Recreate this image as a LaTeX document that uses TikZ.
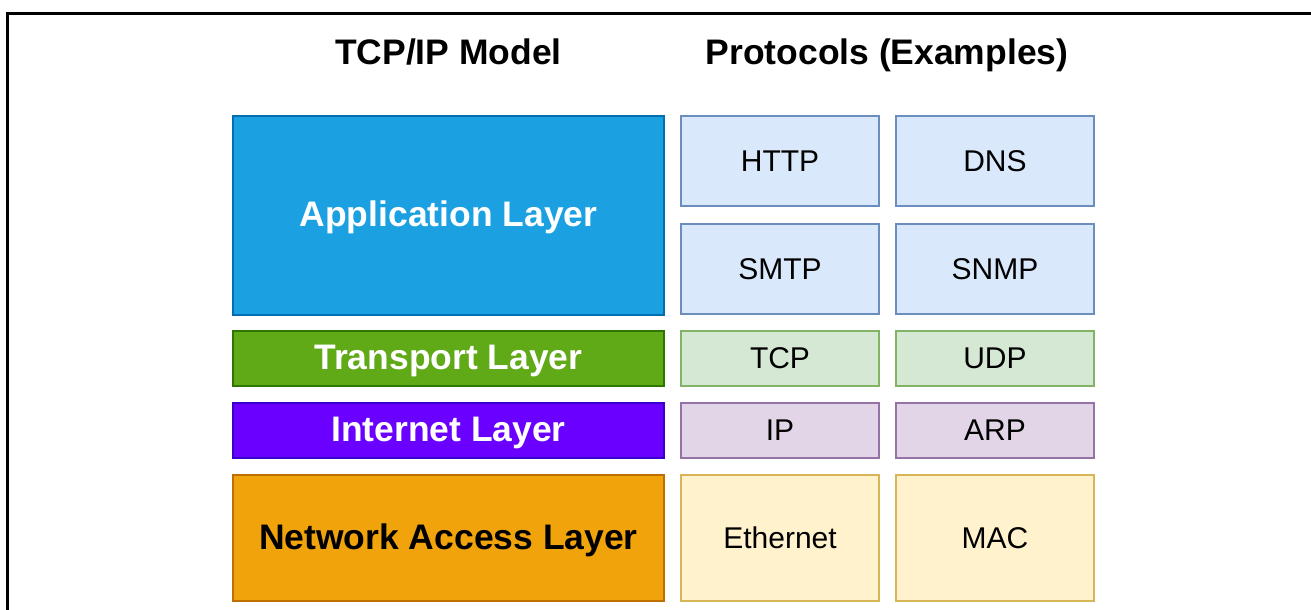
\documentclass[tikz,border=0pt]{standalone}
\usepackage{fontspec}
\setmainfont{Liberation Sans}
\definecolor{appfill}{HTML}{1BA1E2}\definecolor{appline}{HTML}{006EAF}
\definecolor{trfill}{HTML}{60A917}\definecolor{trline}{HTML}{2D7600}
\definecolor{infill}{HTML}{6A00FF}\definecolor{inline}{HTML}{3700CC}
\definecolor{nafill}{HTML}{F0A30A}\definecolor{naline}{HTML}{BD7000}
\definecolor{bluefill}{HTML}{DAE8FC}\definecolor{blueline}{HTML}{6C8EBF}
\definecolor{greenfill}{HTML}{D5E8D4}\definecolor{greenline}{HTML}{82B366}
\definecolor{purplefill}{HTML}{E1D5E7}\definecolor{purpleline}{HTML}{9673A6}
\definecolor{yellowfill}{HTML}{FFF2CC}\definecolor{yellowline}{HTML}{D6B656}
\tikzset{
  box/.style={rectangle, draw, line width=1pt, inner sep=0pt, align=center},
  boldtext/.style={font=\fontsize{26.6}{30}\selectfont\bfseries,
    text height=22.6pt, text depth=5.8pt},
  plaintext/.style={font=\fontsize{22.5}{26}\selectfont,
    text height=19pt, text depth=3.7pt},
  layer/.style={box, boldtext, minimum width=323.25pt},
  proto/.style={box, plaintext, minimum width=148.5pt, text=black},
  title/.style={inner sep=0pt, boldtext},
}
\begin{document}
\begin{tikzpicture}[x=0.75pt, y=-0.75pt]
\useasboundingbox (0,0) rectangle (1311,610);
\fill[white] (0,0) rectangle (1311,610);
% frame edges
\draw[line width=2.25pt] (7,615) -- (7,13.5) -- (1315,13.5);
% column headings
\node[title] (t1) at (448.5,53) {TCP/IP Model};
\node[title] (t2) at (887,53) {Protocols (Examples)};
% layers
\node[layer, fill=appfill, draw=appline, text=white, minimum height=149.25pt] (app) at (448.5,215.5) {Application Layer};
\node[layer, fill=trfill, draw=trline, text=white, minimum height=41.25pt] (tr) at (448.5,358.5) {Transport Layer};
\node[layer, fill=infill, draw=inline, text=white, minimum height=41.25pt] (inet) at (448.5,430.5) {Internet Layer};
\node[layer, fill=nafill, draw=naline, text=black, minimum height=94.5pt] (na) at (448.5,538) {Network Access Layer};
% protocol examples
\node[proto, fill=bluefill, draw=blueline, minimum height=67.5pt] (http) at (780,161) {HTTP};
\node[proto, fill=bluefill, draw=blueline, minimum height=67.5pt] (dns) at (995,161) {DNS};
\node[proto, fill=bluefill, draw=blueline, minimum height=67.5pt] (smtp) at (780,269) {SMTP};
\node[proto, fill=bluefill, draw=blueline, minimum height=67.5pt] (snmp) at (995,269) {SNMP};
\node[proto, fill=greenfill, draw=greenline, minimum height=41.25pt] (tcp) at (780,358.5) {TCP};
\node[proto, fill=greenfill, draw=greenline, minimum height=41.25pt] (udp) at (995,358.5) {UDP};
\node[proto, fill=purplefill, draw=purpleline, minimum height=41.25pt] (ip) at (780,430.5) {IP};
\node[proto, fill=purplefill, draw=purpleline, minimum height=41.25pt] (arp) at (995,430.5) {ARP};
\node[proto, fill=yellowfill, draw=yellowline, minimum height=94.5pt] (eth) at (780,538) {Ethernet};
\node[proto, fill=yellowfill, draw=yellowline, minimum height=94.5pt] (mac) at (995,538) {MAC};
\end{tikzpicture}
\end{document}
